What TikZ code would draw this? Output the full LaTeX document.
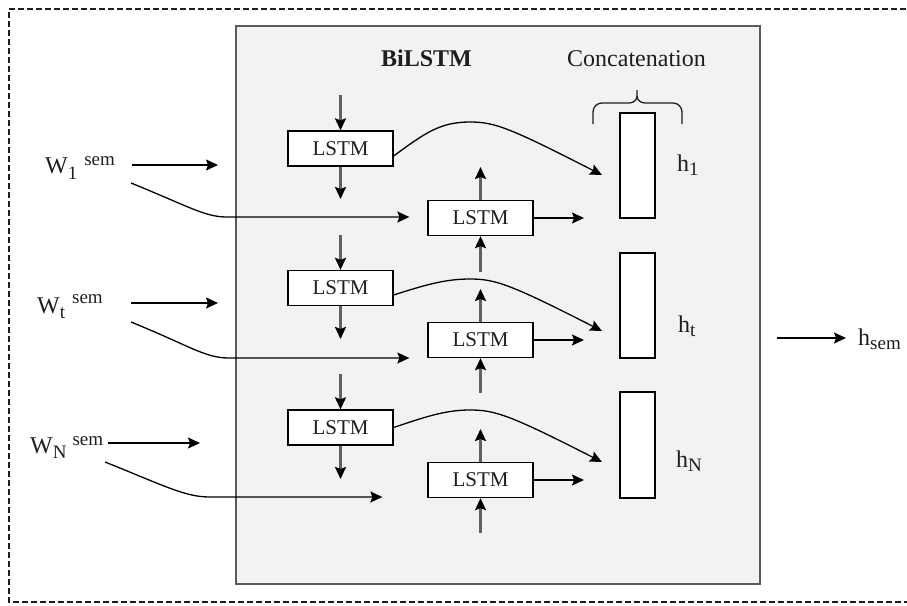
\documentclass[tikz,border=0pt]{standalone}
\usepackage{fontspec}
\setmainfont{Liberation Serif}
\usetikzlibrary{arrows.meta,calc}
\definecolor{panel}{HTML}{F2F2F2}
\definecolor{frame}{HTML}{5A5A5A}
\definecolor{ink}{HTML}{1E1E1E}
\newcommand{\idxtxt}[1]{{\fontsize{19}{19}\selectfont #1}}
\begin{document}
\begin{tikzpicture}[x=1pt,y=-1pt,
  lstm/.style={draw=black,fill=white,line width=1.3pt,minimum width=105pt,
    minimum height=35pt,inner sep=0pt,font=\fontsize{21}{21}\selectfont,text=ink},
  hvec/.style={draw=black,fill=white,line width=1.3pt,minimum width=35pt,
    minimum height=105pt,inner sep=0pt},
  lbl/.style={inner sep=0pt,anchor=base west,text=ink,font=\fontsize{24}{24}\selectfont},
  tip/.style={-{Stealth[length=12pt,width=11pt,inset=2pt,color=black]}},
  flow/.style={tip,line width=1.3pt,black},
  vflow/.style={tip,line width=2.2pt,black!62},
]
\useasboundingbox (0,0) rectangle (907,605);

% outer dashed frame (right side runs off the page)
\draw[ink,line width=1.5pt,dash pattern=on 6pt off 3pt]
  (915,9) -- (9,9) -- (9,602) -- (915,602);

% BiLSTM panel
\draw[fill=panel,draw=frame,line width=1.5pt] (236,26) rectangle (760,584);

% titles
\node[lbl,font=\fontsize{24}{24}\selectfont\bfseries] (title) at (381,66) {BiLSTM};
\node[lbl] (concat) at (567,66.5) {Concatenation};

% forward LSTM cells
\node[lstm] (f1) at (340.5,148.5) {LSTM};
\node[lstm] (f2) at (340.5,288) {LSTM};
\node[lstm] (f3) at (340.5,427.5) {LSTM};
% backward LSTM cells
\node[lstm] (b1) at (480.5,218) {LSTM};
\node[lstm] (b2) at (480.5,340) {LSTM};
\node[lstm] (b3) at (480.5,480) {LSTM};

% concatenated hidden states
\node[hvec] (h1) at (637.5,165.5) {};
\node[hvec] (ht) at (637.5,305.5) {};
\node[hvec,minimum height=106pt] (hN) at (637.5,445) {};

% input labels
\node[lbl] (w1) at (45,173) {W\raisebox{-6pt}{\idxtxt{1}}\hspace{7pt}\raisebox{8pt}{\idxtxt{sem}}};
\node[lbl] (wt) at (37,313) {W\raisebox{-5pt}{\idxtxt{t}}\hspace{7pt}\raisebox{10pt}{\idxtxt{sem}}};
\node[lbl] (wn) at (30,453) {W\raisebox{-5pt}{\idxtxt{N}}\hspace{6pt}\raisebox{8pt}{\idxtxt{sem}}};

% output labels
\node[lbl] (l1) at (677,171) {h\raisebox{-4pt}{\idxtxt{1}}};
\node[lbl] (lt) at (678,332) {h\raisebox{-4pt}{\idxtxt{t}}};
\node[lbl] (lN) at (676,467) {h\raisebox{-4pt}{\idxtxt{N}}};
\node[lbl] (lsem) at (858,345) {h\raisebox{-4pt}{\idxtxt{sem}}};

% free ends of connectors
\coordinate (f1in) at (340.5,95);
\coordinate (f1out) at (340.5,199);
\coordinate (f2in) at (340.5,235);
\coordinate (f2out) at (340.5,339);
\coordinate (f3in) at (340.5,374);
\coordinate (f3out) at (340.5,479);
\coordinate (b1in) at (480.5,272);
\coordinate (b1out) at (480.5,167);
\coordinate (b2in) at (480.5,393);
\coordinate (b2out) at (480.5,289);
\coordinate (b3in) at (480.5,533);
\coordinate (b3out) at (480.5,429);
\coordinate (b1r) at (584,218);
\coordinate (b2r) at (584,340);
\coordinate (b3r) at (584,480);
\coordinate (c1) at (602,175);
\coordinate (c2) at (602,331);
\coordinate (c3) at (602,462);
\coordinate (in1) at (218,165);
\coordinate (int) at (218,303);
\coordinate (inN) at (200,443);
\coordinate (out) at (846,338);
\coordinate (outs) at (777,338);

% vertical flow through the cells
\draw[vflow] (f1in) -- (f1.north);
\draw[vflow] (f1.south) -- (f1out);
\draw[vflow] (f2in) -- (f2.north);
\draw[vflow] (f2.south) -- (f2out);
\draw[vflow] (f3in) -- (f3.north);
\draw[vflow] (f3.south) -- (f3out);
\draw[vflow] (b1in) -- (b1.south);
\draw[vflow] (b1.north) -- (b1out);
\draw[vflow] (b2in) -- (b2.south);
\draw[vflow] (b2.north) -- (b2out);
\draw[vflow] (b3in) -- (b3.south);
\draw[vflow] (b3.north) -- (b3out);

% backward outputs
\draw[flow] (b1.east) -- (b1r);
\draw[flow] (b2.east) -- (b2r);
\draw[flow] (b3.east) -- (b3r);

% forward outputs towards the concatenation
\draw[flow] ($(f1.east)+(0,7.5)$) .. controls (425,133) and (440,122) .. (470,122)
  .. controls (495,122) and (510,128) .. (c1);
\draw[flow] ($(f2.east)+(0,7)$) .. controls (425,285) and (445,279) .. (470,279)
  .. controls (495,279) and (510,284) .. (c2);
\draw[flow] (f3.east) .. controls (425,417) and (445,410) .. (470,410)
  .. controls (495,410) and (510,415) .. (c3);

% inputs
\draw[flow] ($(w1.east |- in1)+(17,0)$) -- (in1);
\draw[flow] ($(wt.east |- int)+(28,0)$) -- (int);
\draw[flow] ($(wn.east |- inN)+(5,0)$) -- (inN);
\draw[flow] (131,183) .. controls (190,207) and (205,217) .. (227,217) -- ($(b1.west)+(-18,-1)$);
\draw[flow] (131,322) .. controls (190,346) and (205,358) .. (229,358) -- ($(b2.west)+(-18,18)$);
\draw[flow] (105,462) .. controls (165,486) and (185,497) .. (210,497) -- ($(b3.west)+(-45,17)$);

% concatenation brace
\draw[ink,line width=1.3pt] (593,124) -- (593,112) to[out=90,in=180] (602,103)
  -- (629,103) to[out=0,in=-90] (637,96) -- (637,90);
\draw[ink,line width=1.3pt] (637,96) to[out=-90,in=180] (645,103) -- (673,103)
  to[out=0,in=90] (682,112) -- (682,124);

% final output
\draw[flow] (outs) -- (out);
\end{tikzpicture}
\end{document}
